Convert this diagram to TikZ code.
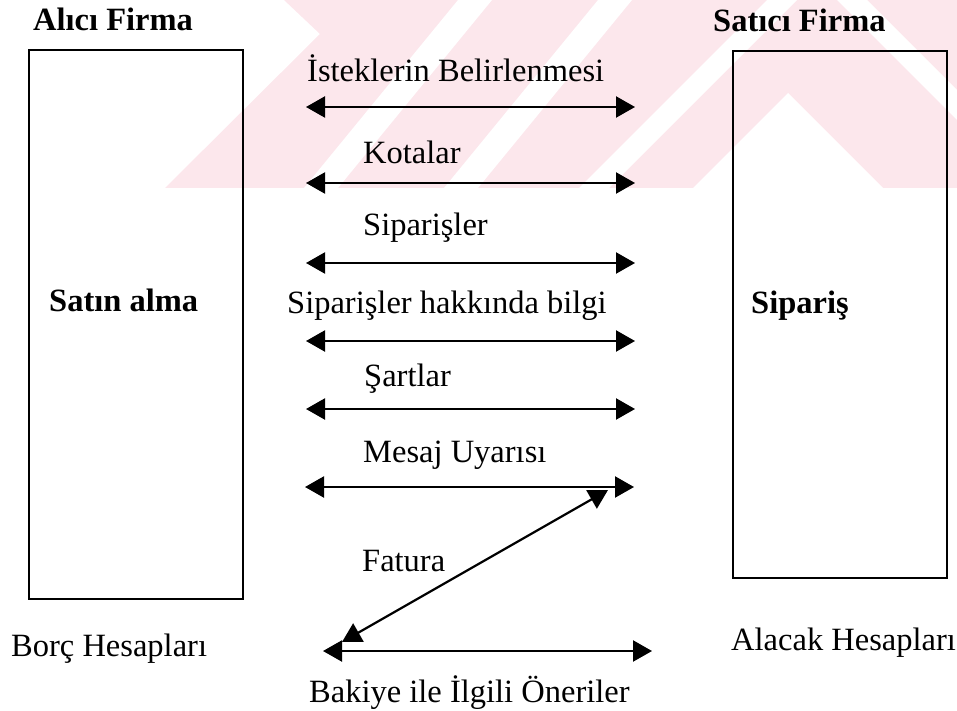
\documentclass[tikz,border=0pt]{standalone}
\usepackage{fontspec}
\setmainfont{Liberation Serif}
\usetikzlibrary{arrows.meta}
\definecolor{wmpink}{RGB}{252,231,236}
\begin{document}
\begin{tikzpicture}[x=1pt,y=-1pt,
  lbl/.style={inner sep=0pt, anchor=base west, font=\fontsize{32.5}{39}\selectfont},
  hd/.style={inner sep=0pt, anchor=base west, font=\fontsize{32.5}{39}\selectfont\bfseries},
  panel/.style={draw=black, line width=2pt, inner sep=0pt, anchor=north west},
  flow/.style={line width=2.2pt, {Triangle[length=19pt,width=21pt]}-{Triangle[length=19pt,width=21pt]}}
]
\useasboundingbox (0,0) rectangle (957,711);

% pale background emblem
\begin{scope}
  \clip (284,0) -- (957,0) -- (957,188) -- (165,188) -- (320,34) -- cycle;
  \fill[wmpink] (0,0) rectangle (957,188);
  \fill[white] (458,0) -- (492,0) -- (338,188) -- (304,188) -- cycle;
  \fill[white] (598,0) -- (632,0) -- (478,188) -- (444,188) -- cycle;
  \fill[white] (817,-20) -- (1030,193) -- (1060,193) -- (817,-50) -- (574,193) -- (604,193) -- cycle;
  \fill[white] (788,93) -- (883,188) -- (693,188) -- cycle;
\end{scope}

% the two firms
\node[panel, minimum width=214pt, minimum height=549pt] (buyer) at (28,49) {};
\node[panel, minimum width=214pt, minimum height=527pt] (seller) at (732,50) {};

\node[hd] (buyerT) at (33,31) {Alıcı Firma};
\node[hd] (sellerT) at (713,32) {Satıcı Firma};
\node[hd] (buyerIn) at (49,311) {Satın alma};
\node[hd] (sellerIn) at (751,313) {Sipariş};
\node[lbl] (buyerB) at (11,656) {Borç Hesapları};
\node[lbl] (sellerB) at (731,650) {Alacak Hesapları};

% message labels
\node[lbl] (m1) at (307,82) {İsteklerin Belirlenmesi};
\node[lbl] (m2) at (363,164) {Kotalar};
\node[lbl] (m3) at (363,235) {Siparişler};
\node[lbl] (m4) at (287,313) {Siparişler hakkında bilgi};
\node[lbl] (m5) at (364,386) {Şartlar};
\node[lbl] (m6) at (363,462) {Mesaj Uyarısı};
\node[lbl] (m7) at (362,571) {Fatura};
\node[lbl] (m8) at (309,702) {Bakiye ile İlgili Öneriler};

% arrow end points
\coordinate (a1l) at (306,107); \coordinate (a1r) at (635,107);
\coordinate (a2l) at (306,183); \coordinate (a2r) at (635,183);
\coordinate (a3l) at (306,263); \coordinate (a3r) at (635,263);
\coordinate (a4l) at (306,341); \coordinate (a4r) at (635,341);
\coordinate (a5l) at (306,409); \coordinate (a5r) at (635,409);
\coordinate (a6l) at (305,487); \coordinate (a6r) at (634,487);
\coordinate (fa) at (608,490); \coordinate (fb) at (342,642);
\coordinate (bl) at (323,651); \coordinate (br) at (652,651);

\draw[flow] (a1l) -- (a1r);
\draw[flow] (a2l) -- (a2r);
\draw[flow] (a3l) -- (a3r);
\draw[flow] (a4l) -- (a4r);
\draw[flow] (a5l) -- (a5r);
\draw[flow] (a6l) -- (a6r);
\draw[flow] (fa) -- (fb);
\draw[flow] (bl) -- (br);
\end{tikzpicture}
\end{document}
